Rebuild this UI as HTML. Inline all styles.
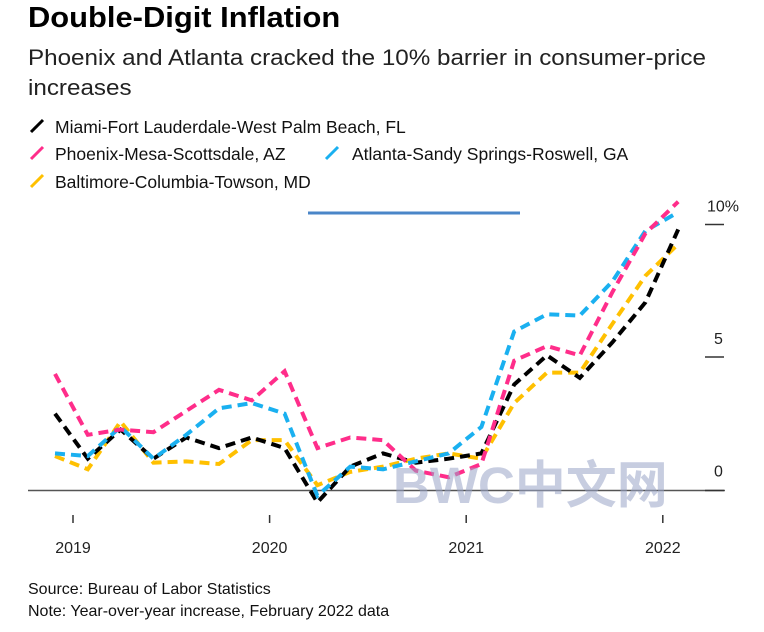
<!DOCTYPE html>
<html><head><meta charset="utf-8"><style>
body{margin:0;background:#fff;width:764px;height:632px;overflow:hidden;font-family:"Liberation Sans",sans-serif;}
.t{position:absolute;left:28px;top:2px;font-size:29px;font-weight:bold;color:#000;transform:scaleX(1.065);transform-origin:0 0;white-space:nowrap}
.s{position:absolute;left:28px;top:43px;font-size:22px;color:#222;line-height:30px;width:700px;transform:scaleX(1.1);transform-origin:0 0;white-space:nowrap}
.foot{position:absolute;left:28px;font-size:16px;color:#111}
</style></head><body>
<div class="t">Double-Digit Inflation</div>
<div class="s">Phoenix and Atlanta cracked the 10% barrier in consumer-price<br>increases</div>
<svg width="764" height="632" style="position:absolute;left:0;top:0" id="ch">
<g id="legend" font-size="17.5">
<line x1="31" y1="132" x2="43" y2="120" stroke="#000" stroke-width="3"/>
<text x="55" y="133" fill="#111">Miami-Fort Lauderdale-West Palm Beach, FL</text>
<line x1="31" y1="159" x2="43" y2="147" stroke="#ff2d8a" stroke-width="3"/>
<text x="55" y="160" fill="#111">Phoenix-Mesa-Scottsdale, AZ</text>
<line x1="326" y1="159" x2="338" y2="147" stroke="#1ab0f0" stroke-width="3"/>
<text x="352" y="160" fill="#111">Atlanta-Sandy Springs-Roswell, GA</text>
<line x1="31" y1="187" x2="43" y2="175" stroke="#ffc000" stroke-width="3"/>
<text x="55" y="188" fill="#111">Baltimore-Columbia-Towson, MD</text>
</g>
<line x1="308" y1="213" x2="520" y2="213" stroke="#4a86c8" stroke-width="3"/>
<line x1="28" y1="490.5" x2="725" y2="490.5" stroke="#555" stroke-width="1.5"/>
<g id="yax"></g>
<g id="xax"></g>
<g id="series"></g>
<text x="393" y="503" font-size="51" font-weight="bold" fill="#9aa6c8" opacity="0.55" font-family="Liberation Sans, Noto Sans CJK SC, sans-serif">BWC中文网</text>
</svg>
<div class="foot" style="top:581px">Source: Bureau of Labor Statistics</div>
<div class="foot" style="top:603px">Note: Year-over-year increase, February 2022 data</div>
<script>
const yTicks=[0,5,10];
const yTickLabels=["0","5","10%"];
const xYears=["2019","2020","2021","2022"];
const miami=[2.9,1.2,2.3,1.2,2.0,1.6,2.0,1.6,-0.45,0.9,1.4,1.05,1.2,1.4,4.0,5.1,4.25,5.6,7.1,9.85];
const phoenix=[4.4,2.1,2.3,2.2,3.0,3.8,3.4,4.5,1.6,2.0,1.9,0.75,0.5,1.0,4.9,5.45,5.1,7.5,9.7,10.9];
const atlanta=[1.4,1.3,2.4,1.2,2.1,3.1,3.3,2.9,-0.2,0.9,0.8,1.1,1.4,2.4,6.0,6.65,6.6,7.9,9.8,10.5];
const baltimore=[1.3,0.8,2.6,1.05,1.1,1.0,1.9,1.9,0.2,0.7,0.9,1.2,1.4,1.2,3.3,4.45,4.45,6.3,8.1,9.3];
const NS="http://www.w3.org/2000/svg";
function y(v){return 490.5-v*26.5;}
function x(i){return 55+i*32.8;}
function yearX(k){return 73+k*196.6;}
const yax=document.getElementById('yax');
yTicks.forEach((t,i)=>{
 const l=document.createElementNS(NS,'line');
 l.setAttribute('x1',705);l.setAttribute('x2',724);l.setAttribute('y1',y(t)+(t===0?0:-1));l.setAttribute('y2',y(t)+(t===0?0:-1));
 l.setAttribute('stroke','#333');l.setAttribute('stroke-width',1.5);
 
 
 yax.appendChild(l);
 const tx=document.createElementNS(NS,'text');
 tx.setAttribute('x',t===10?707:714);tx.setAttribute('y',y(t)-14);tx.setAttribute('font-size',16);tx.setAttribute('fill','#222');
 tx.textContent=yTickLabels[i];
 
 
 yax.appendChild(tx);
});
const xax=document.getElementById('xax');
xYears.forEach((s,k)=>{
 const l=document.createElementNS(NS,'line');
 l.setAttribute('x1',yearX(k));l.setAttribute('x2',yearX(k));l.setAttribute('y1',515);l.setAttribute('y2',523);
 l.setAttribute('stroke','#333');l.setAttribute('stroke-width',1.5);
 
 
 xax.appendChild(l);
 const tx=document.createElementNS(NS,'text');
 tx.setAttribute('x',yearX(k));tx.setAttribute('y',553);tx.setAttribute('font-size',16);tx.setAttribute('fill','#222');tx.setAttribute('text-anchor','middle');
 tx.textContent=s;
 
 
 xax.appendChild(tx);
});
const sg=document.getElementById('series');
[[baltimore,'#ffc000','baltimore'],[miami,'#000','miami'],[atlanta,'#1ab0f0','atlanta'],[phoenix,'#ff2d8a','phoenix']].forEach(([d,c,n])=>{
 const p=document.createElementNS(NS,'polyline');
 p.setAttribute('points',d.map((v,i)=>x(i)+','+y(v)).join(' '));
 p.setAttribute('fill','none');p.setAttribute('stroke',c);p.setAttribute('stroke-width',4);p.setAttribute('stroke-dasharray','10 6');
 
 
 sg.appendChild(p);
});
</script>
</body></html>
